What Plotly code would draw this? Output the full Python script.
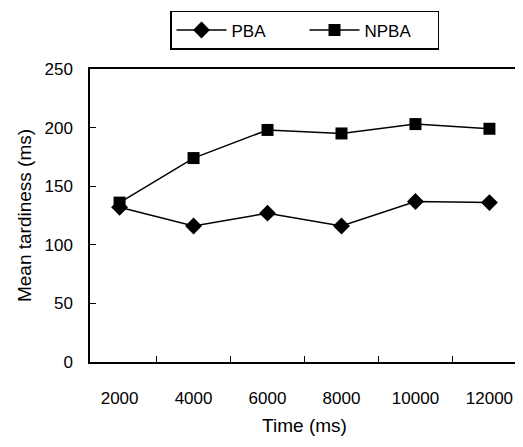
import plotly.graph_objects as go

time_ms = ["2000", "4000", "6000", "8000", "10000", "12000"]
pba = [132, 116, 127, 116, 137, 136]
npba = [136, 174, 198, 195, 203, 199]
y_ticks = [0, 50, 100, 150, 200, 250]

fig = go.Figure()
fig.add_trace(go.Scatter(x=time_ms, y=pba, name="PBA", mode="lines+markers",
                         line=dict(color="black", width=1.5),
                         marker=dict(symbol="diamond", size=13, color="black")))
fig.add_trace(go.Scatter(x=time_ms, y=npba, name="NPBA", mode="lines+markers",
                         line=dict(color="black", width=1.5),
                         marker=dict(symbol="square", size=12, color="black")))

# page body has an 8px default margin, so the figure is sized/offset to compensate
fig.update_layout(
    width=515, height=439,
    margin=dict(l=82, r=4, t=61, b=85, autoexpand=False),
    paper_bgcolor="white", plot_bgcolor="white",
    font=dict(family="Liberation Sans, Arial, sans-serif", color="black", size=17),
    legend=dict(orientation="h", x=0.5, xanchor="center", y=1.198, yanchor="top",
                bordercolor="black", borderwidth=1.5, font=dict(size=17),
                itemwidth=50, entrywidth=68, tracegroupgap=0),
    xaxis=dict(type="category", showline=True, linecolor="black", linewidth=1.5, mirror=True,
               ticks="inside", tickson="boundaries", ticklen=6, tickcolor="black",
               ticklabelstandoff=20,
               showgrid=False, title=dict(text="Time (ms)", font=dict(size=19), standoff=12)),
    yaxis=dict(range=[0, 250], tickvals=y_ticks, showline=True, linecolor="black", linewidth=1.5,
               mirror=True, ticks="inside", ticklen=6, tickcolor="black", showgrid=False,
               ticklabelstandoff=12,
               zeroline=False, title=dict(text="Mean tardiness (ms)", font=dict(size=19), standoff=8)),
)

fig.write_html("out.html")
